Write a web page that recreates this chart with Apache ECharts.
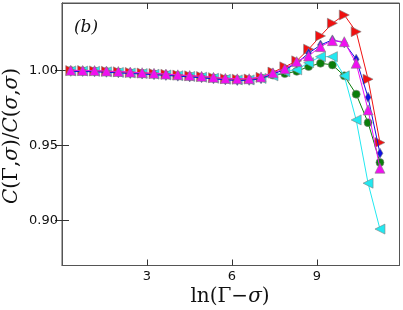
<!DOCTYPE html>
<html><head><meta charset="utf-8">
<script src="https://cdn.jsdelivr.net/npm/echarts@6/dist/echarts.min.js"></script>
<style>html,body{margin:0;padding:0;background:#fff}#c{width:403px;height:310px}</style>
</head><body><div id="c"></div>
<script>
const xVals = [0.31,0.73,1.15,1.57,1.99,2.41,2.83,3.25,3.67,4.09,4.51,4.93,5.35,5.77,6.19,6.61,7.03,7.45,7.87,8.29,8.71,9.13,9.55,9.97,10.39,10.81,11.23];
const xTicks = [3,6,9];
const yTicks = [0.90,0.95,1.00];
const redVals = [1.000,1.000,0.9998,0.9995,0.9992,0.9988,0.9984,0.9980,0.9975,0.9970,0.9965,0.9960,0.9953,0.9946,0.9943,0.9944,0.9955,0.9990,1.0025,1.0065,1.0143,1.0231,1.0316,1.0371,1.0260,0.9943,0.9520];
const blueVals = [0.9995,0.9994,0.9992,0.9989,0.9985,0.9981,0.9977,0.9973,0.9968,0.9963,0.9958,0.9952,0.9945,0.9938,0.9934,0.9935,0.9946,0.9980,1.0005,1.0050,1.0116,1.0171,1.0205,1.0185,1.0076,0.9822,0.9449];
const magentaVals = [1.0002,1.0001,1.0000,0.9997,0.9994,0.9990,0.9986,0.9982,0.9977,0.9972,0.9967,0.9962,0.9955,0.9948,0.9945,0.9946,0.9958,0.9985,1.0012,1.0060,1.0098,1.0160,1.0200,1.0193,1.0049,0.9738,0.9349];
const greenVals = [1.000,0.9999,0.9997,0.9994,0.9990,0.9986,0.9982,0.9978,0.9973,0.9968,0.9963,0.9958,0.9951,0.9944,0.9940,0.9940,0.9950,0.9970,0.9980,0.9995,1.0027,1.0049,1.0038,0.9965,0.9843,0.9653,0.9387];
const cyanVals = [0.9998,0.9997,0.9995,0.9992,0.9988,0.9984,0.9980,0.9976,0.9971,0.9966,0.9961,0.9956,0.9949,0.9942,0.9938,0.9938,0.9948,0.9965,0.9993,1.0005,1.0053,1.0093,1.0093,0.9965,0.9671,0.9249,0.8943];

const pair = v => xVals.map((x,i)=>[x,v[i]]);
const mk = (name,color,vals,symbol,size,rot,z) => ({
  name, type:'line', data:pair(vals), symbol, symbolSize:size, symbolRotate:rot,
  lineStyle:{color, width:1}, itemStyle:{color, borderColor:'#808080', borderWidth:0.6},
  showSymbol:true, animation:false, z
});
const chart = echarts.init(document.getElementById('c'), null, {renderer:'canvas'});
const axCommon = {min:0, max:11.92};
const yCommon = {min:0.87, max:1.0451};
chart.setOption({
  animation:false,
  grid:{left:62, right:3.5, top:3, bottom:44.5, show:true, borderColor:'#555', borderWidth:1},
  xAxis:[
    {type:'value', ...axCommon, position:'bottom', splitLine:{show:false},
     axisLine:{show:true, lineStyle:{color:'#555'}},
     axisTick:{show:true, inside:true, length:6, customValues:xTicks, lineStyle:{color:'#333'}},
     axisLabel:{customValues:xTicks, color:'#111', fontSize:13, fontFamily:'DejaVu Sans', margin:5}},
    {type:'value', ...axCommon, position:'top', splitLine:{show:false},
     axisLine:{show:true, lineStyle:{color:'#555'}},
     axisTick:{show:true, inside:true, length:6, customValues:xTicks, lineStyle:{color:'#333'}},
     axisLabel:{show:false}}
  ],
  yAxis:[
    {type:'value', ...yCommon, position:'left', splitLine:{show:false},
     axisLine:{show:true, lineStyle:{color:'#555'}},
     axisTick:{show:true, inside:true, length:7, customValues:yTicks, lineStyle:{color:'#333'}},
     axisLabel:{customValues:yTicks, color:'#111', fontSize:13, fontFamily:'DejaVu Sans', margin:4,
       formatter:v=>v.toFixed(2)}},
    {type:'value', ...yCommon, position:'right', splitLine:{show:false},
     axisLine:{show:true, lineStyle:{color:'#555'}},
     axisTick:{show:true, inside:true, length:7, customValues:yTicks, lineStyle:{color:'#333'}},
     axisLabel:{show:false}}
  ],
  series:[
    mk('green','#0a7d0a',greenVals,'circle',8,0,2),
    mk('cyan','#22e8f0',cyanVals,'triangle',10,90,3),
    mk('red','#f01010',redVals,'triangle',10,-90,4),
    mk('blue','#1010e0',blueVals,'diamond',[6,10],0,5),
    mk('magenta','#f010f0',magentaVals,'triangle',10,0,6)
  ],
  graphic:[
    {type:'text', x:86, y:28, style:{text:'(b)', font:'italic 17px "DejaVu Serif"', fill:'#111', align:'center', verticalAlign:'middle'}},
    {type:'text', x:230, y:297, style:{
      text:'{u|ln(Γ−}{i|σ}{u|)}', align:'center', verticalAlign:'middle',
      rich:{u:{font:'20px "DejaVu Serif"', fill:'#111'}, i:{font:'italic 20px "DejaVu Serif"', fill:'#111'}}}},
    {type:'text', x:12, y:136, rotation:Math.PI/2, style:{
      text:'{i|C}{u|(Γ,}{i|σ}{u|)/}{i|C}{u|(}{i|σ}{u|,}{i|σ}{u|)}', align:'center', verticalAlign:'middle',
      rich:{u:{font:'20px "DejaVu Serif"', fill:'#111'}, i:{font:'italic 20px "DejaVu Serif"', fill:'#111'}}}}
  ]
});
</script></body></html>
